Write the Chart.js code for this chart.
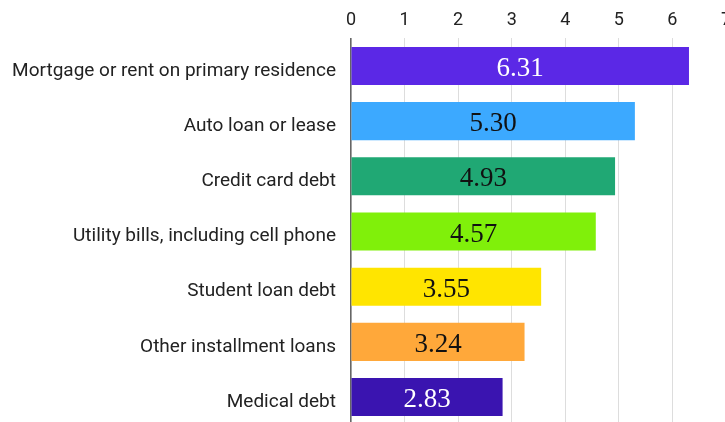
<!DOCTYPE html>
<html>
<head>
<meta charset="utf-8">
<script src="https://cdn.jsdelivr.net/npm/chart.js@4/dist/chart.umd.min.js"></script>
<style>
  html, body { margin: 0; padding: 0; overflow: hidden; background: #fff; width: 725px; height: 422px; }
  #wrap { position: absolute; left: 0; top: 0; width: 738px; height: 451px; }
  canvas { display: block; }
</style>
</head>
<body>
<div id="wrap"><canvas id="c" width="738" height="451"></canvas></div>
<script>
const categories = [
  "Mortgage or rent on primary residence",
  "Auto loan or lease",
  "Credit card debt",
  "Utility bills, including cell phone",
  "Student loan debt",
  "Other installment loans",
  "Medical debt"
];
const values = [6.31, 5.30, 4.93, 4.57, 3.55, 3.24, 2.83];
const valueLabels = ["6.31", "5.30", "4.93", "4.57", "3.55", "3.24", "2.83"];
const xTicks = [0, 1, 2, 3, 4, 5, 6, 7];
const barColors = ["#5B28E6", "#3CA9FF", "#20A874", "#80F00A", "#FFE500", "#FFA83A", "#3A14B0"];
const labelColors = ["#ffffff", "#111111", "#111111", "#111111", "#111111", "#111111", "#ffffff"];

const barLabelPlugin = {
  id: 'barLabels',
  afterDatasetsDraw(chart) {
    const ctx = chart.ctx;
    const meta = chart.getDatasetMeta(0);
    ctx.save();
    ctx.font = '27px "Liberation Serif", serif';
    ctx.textAlign = 'center';
    ctx.textBaseline = 'middle';
    meta.data.forEach((bar, i) => {
      const x = (bar.base + bar.x) / 2;
      ctx.fillStyle = labelColors[i];
      ctx.fillText(valueLabels[i], x, bar.y + 3);
    });
    ctx.restore();
  }
};

new Chart(document.getElementById('c'), {
  type: 'bar',
  data: {
    labels: categories,
    datasets: [{
      data: values,
      backgroundColor: barColors,
      borderWidth: 0,
      barPercentage: 0.69,
      categoryPercentage: 1.0
    }]
  },
  options: {
    indexAxis: 'y',
    responsive: false,
    animation: false,
    devicePixelRatio: 1,
    layout: { padding: 0 },
    plugins: { legend: { display: false }, tooltip: { enabled: false } },
    scales: {
      x: {
        position: 'top',
        min: 0,
        max: 7,
        afterBuildTicks(scale) { scale.ticks = xTicks.map(v => ({ value: v })); },
        afterFit(scale) { scale.height = 38.4; },
        grid: { color: '#dddddd', lineWidth: 1, drawTicks: false },
        border: { display: false },
        ticks: { color: '#222222', font: { family: 'Roboto', size: 18 }, padding: 7 }
      },
      y: {
        afterFit(scale) { scale.width = 351; },
        grid: { display: false, drawTicks: false },
        border: { display: true, color: '#666666', width: 1.5 },
        ticks: { color: '#222222', font: { family: 'Roboto', size: 19 }, padding: 15, labelOffset: 5 }
      }
    }
  },
  plugins: [barLabelPlugin]
});
</script>
</body>
</html>
